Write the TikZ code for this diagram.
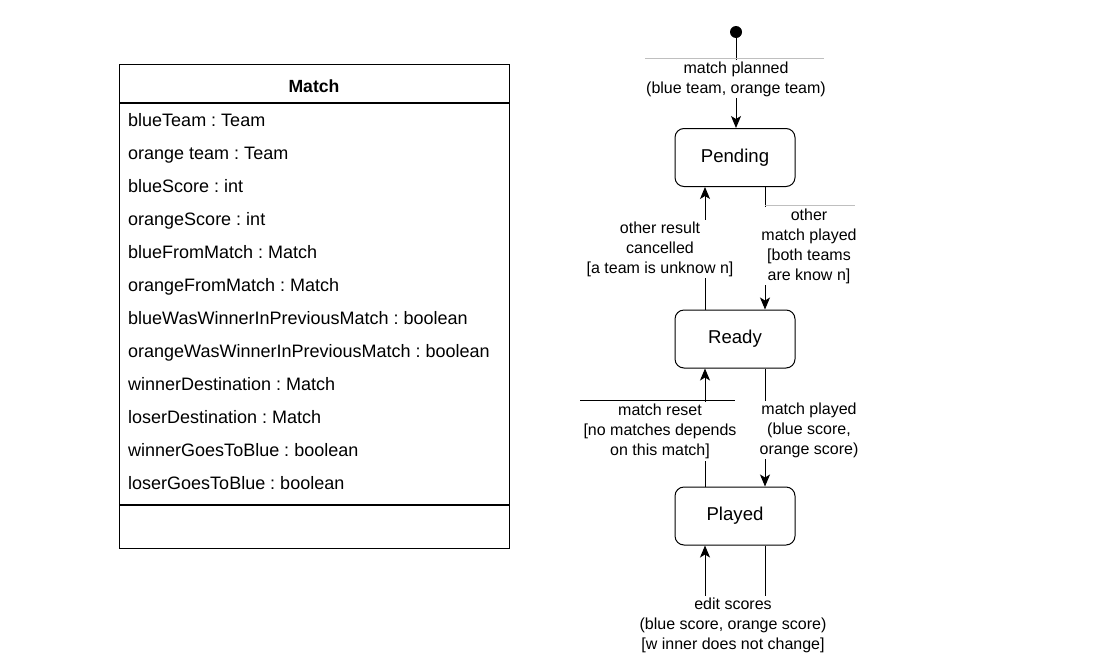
\documentclass[tikz,border=0pt]{standalone}
\usepackage{fontspec}
\setmainfont{Liberation Sans}
\usetikzlibrary{arrows.meta}
\begin{document}
\frenchspacing
\begin{tikzpicture}[x=1pt,y=-1pt,
  cls/.style={font=\fontsize{18}{20}\selectfont, anchor=west, inner sep=0pt, text height=12.8pt, text depth=0pt},
  st/.style={draw, rounded corners=9pt, minimum width=120pt, minimum height=58pt, line width=1pt, font=\fontsize{18.6}{21}\selectfont},
  lbl/.style={fill=white, align=center, inner xsep=1pt, inner ysep=2pt, font=\fontsize{16}{20}\selectfont},
  tr/.style={line width=1pt, -{Stealth[length=12pt,width=10pt,inset=3pt]}},
  ln/.style={line width=1pt}]
\useasboundingbox (0,0) rectangle (1094,664);
% class box
\node[draw, line width=1.4pt, minimum width=390pt, minimum height=484pt, anchor=north west, inner sep=0pt] (cls) at (119,64) {};
\draw[line width=1.4pt] (cls.west |- 0,103) -- (cls.east |- 0,103);
\draw[line width=1.4pt] (cls.west |- 0,505) -- (cls.east |- 0,505);
\node[font=\fontsize{17.6}{20}\selectfont\bfseries] (title) at (314,86) {Match};
\foreach \t [count=\i] in {blueTeam : Team, orange team : Team, blueScore : int, orangeScore : int, blueFromMatch : Match, orangeFromMatch : Match, blueWasWinnerInPreviousMatch : boolean, orangeWasWinnerInPreviousMatch : boolean, winnerDestination : Match, loserDestination : Match, winnerGoesToBlue : boolean, loserGoesToBlue : boolean}
  \node[cls] (r\i) at (128, 87+33*\i) {\t};
% states
\node[circle, fill, inner sep=0pt, minimum size=12pt] (init) at (736,32) {};
\node[st] (pend) at (735,157.5) {Pending};
\node[st] (ready) at (735,339) {Ready};
\node[st] (played) at (735,516) {Played};
% transitions
\draw[tr] (init) -- (init |- pend.north);
\draw[tr] ([xshift=-30pt]ready.north) -- ([xshift=-30pt]pend.south);
\draw[tr] ([xshift=30pt]pend.south) -- ([xshift=30pt]ready.north);
\draw[tr] ([xshift=30pt]ready.south) -- ([xshift=30pt]played.north);
\draw[tr] ([xshift=-30pt]played.north) -- ([xshift=-30pt]ready.south);
\draw[tr] ([xshift=30pt]played.south) -- ++(0,65) -| ([xshift=-30pt]played.south);
% labels
\node[lbl] (l0) at (736,79) {match planned\\(blue team, orange team)};
\node[lbl] (l1) at (660,249) {other result\\cancelled\\{[}a team is unknow n]};
\node[lbl] (l2) at (809,246) {other\\match played\\{[}both teams\\are know n]};
\node[lbl] (l3) at (809,430) {match played\\(blue score,\\orange score)};
\node[lbl] (l4) at (660,431.5) {match reset\\{[}no matches depends\\on this match]};
\node[lbl] (l5) at (733,625) {edit scores\\(blue score, orange score)\\{[}w inner does not change]};
% label borders
\draw[gray!50] (645,58) -- (824,58);
\draw[gray!50] (765,205) -- (855,205);
\draw[line width=0.9pt] (580,400) -- (735,400);
\end{tikzpicture}
\end{document}
